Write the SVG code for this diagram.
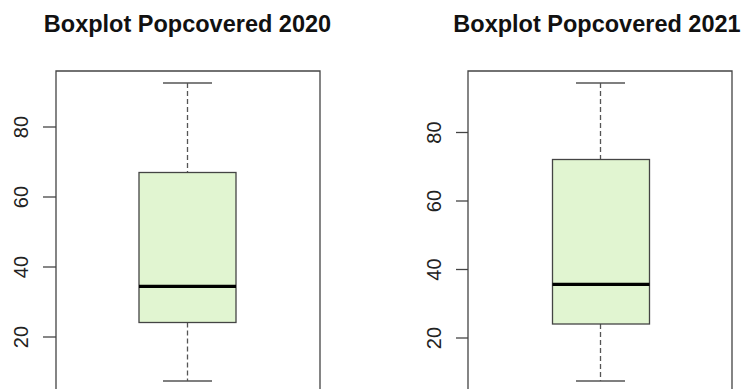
<svg xmlns="http://www.w3.org/2000/svg" width="747" height="389" viewBox="0 0 747 389">
  <style>
    .title { font-family: "Liberation Sans", Arial, sans-serif; font-weight: bold; font-size: 23.5px; fill: #111; text-anchor: middle; }
    .tick-label { font-family: "Liberation Sans", Arial, sans-serif; font-size: 20px; fill: #222; text-anchor: middle; }
    .frame { fill: none; stroke: #444; stroke-width: 1.3; }
    .tick { stroke: #444; stroke-width: 1.3; }
    .box { fill: #e1f5d1; stroke: #444; stroke-width: 1.3; }
    .median { stroke: #000; stroke-width: 3.2; }
    .whisker { stroke: #555; stroke-width: 1.3; stroke-dasharray: 5 3; }
    .cap { stroke: #555; stroke-width: 1.5; }
  </style>
  <rect width="747" height="389" fill="#ffffff"/>

  <!-- Left panel: 2020 -->
  <g id="plot-2020">
    <text class="title" x="187.5" y="32">Boxplot Popcovered 2020</text>
    <path class="frame" d="M56,389 V71 H320 V389"/>
    <g id="axis-2020">
      <line class="tick" x1="43" y1="127" x2="56" y2="127"/>
      <line class="tick" x1="43" y1="197" x2="56" y2="197"/>
      <line class="tick" x1="43" y1="267" x2="56" y2="267"/>
      <line class="tick" x1="43" y1="337" x2="56" y2="337"/>
      <text class="tick-label" transform="translate(28,127) rotate(-90)">80</text>
      <text class="tick-label" transform="translate(28,197) rotate(-90)">60</text>
      <text class="tick-label" transform="translate(28,267) rotate(-90)">40</text>
      <text class="tick-label" transform="translate(28,337) rotate(-90)">20</text>
    </g>
    <g id="box-2020">
      <line class="whisker" x1="187.5" y1="83" x2="187.5" y2="172.5"/>
      <line class="whisker" x1="187.5" y1="322.5" x2="187.5" y2="381"/>
      <line class="cap" x1="163" y1="83" x2="212" y2="83"/>
      <line class="cap" x1="163" y1="381" x2="212" y2="381"/>
      <rect class="box" x="139" y="172.5" width="97" height="150"/>
      <line class="median" x1="139" y1="286.3" x2="236" y2="286.3"/>
    </g>
  </g>

  <!-- Right panel: 2021 -->
  <g id="plot-2021">
    <text class="title" x="597" y="32">Boxplot Popcovered 2021</text>
    <path class="frame" d="M468,389 V71 H732 V389"/>
    <g id="axis-2021">
      <line class="tick" x1="456" y1="132.5" x2="468" y2="132.5"/>
      <line class="tick" x1="456" y1="201" x2="468" y2="201"/>
      <line class="tick" x1="456" y1="269.5" x2="468" y2="269.5"/>
      <line class="tick" x1="456" y1="338" x2="468" y2="338"/>
      <text class="tick-label" transform="translate(441,132.5) rotate(-90)">80</text>
      <text class="tick-label" transform="translate(441,201) rotate(-90)">60</text>
      <text class="tick-label" transform="translate(441,269.5) rotate(-90)">40</text>
      <text class="tick-label" transform="translate(441,338) rotate(-90)">20</text>
    </g>
    <g id="box-2021">
      <line class="whisker" x1="600.5" y1="83" x2="600.5" y2="159.5"/>
      <line class="whisker" x1="600.5" y1="324" x2="600.5" y2="381"/>
      <line class="cap" x1="576" y1="83" x2="625" y2="83"/>
      <line class="cap" x1="576" y1="381" x2="625" y2="381"/>
      <rect class="box" x="552.5" y="159.5" width="97" height="164.5"/>
      <line class="median" x1="552.5" y1="284.3" x2="649.5" y2="284.3"/>
    </g>
  </g>
</svg>
